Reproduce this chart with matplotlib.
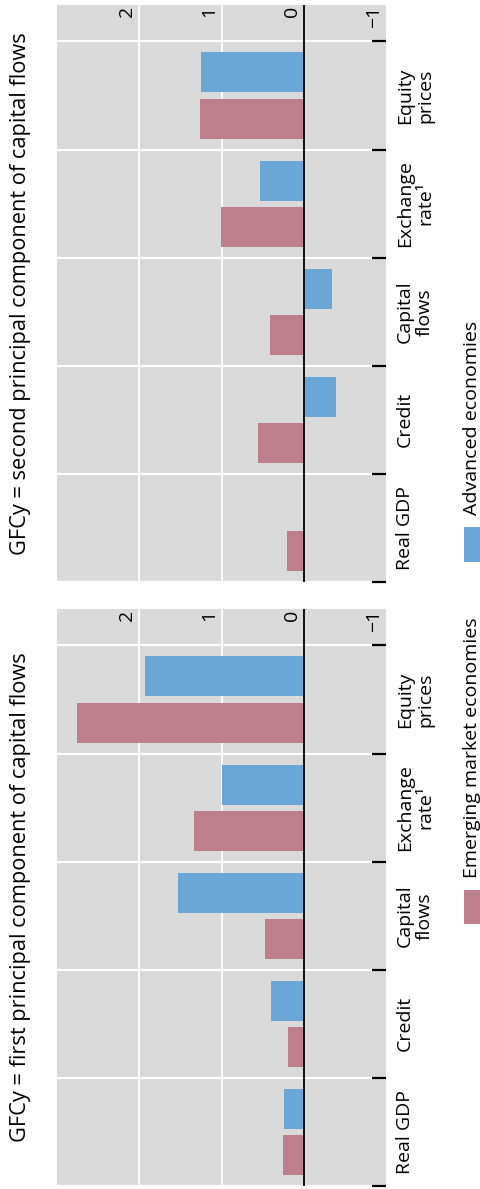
import matplotlib
matplotlib.use("Agg")
import matplotlib.pyplot as plt
import matplotlib.transforms as mtransforms
from matplotlib.patches import Rectangle

plt.rcParams['font.family'] = ['Open Sans', 'DejaVu Sans']

# ---- data ----
categories = ["Real GDP", "Credit", "Capital\nflows", "Exchange\nrate\u00b9", "Equity\nprices"]
series_names = ["Emerging market economies", "Advanced economies"]
titles = ["GFCy = first principal component of capital flows",
          "GFCy = second principal component of capital flows"]
first_adv = [0.24, 0.40, 1.53, 0.99, 1.93]
first_em = [0.25, 0.19, 0.47, 1.34, 2.76]
second_adv = [0.0, -0.39, -0.34, 0.53, 1.25]
second_em = [0.20, 0.56, 0.41, 1.01, 1.265]
value_ticks = [2, 1, 0, -1]
value_tick_labels = ["2", "1", "0", "\u22121"]

# ---- style ----
W, H = 480, 1189
BG = "#dadada"
C_ADV = "#6aa7d6"
C_EM = "#be7f8c"

fig = plt.figure(figsize=(W / 100, H / 100), dpi=100)


def px_box(x0, y0, x1, y1):
    return [x0 / W, 1 - y1 / H, (x1 - x0) / W, (y1 - y0) / H]


def draw_panel(ax, adv, em, title):
    ax.set_facecolor(BG)
    n = len(categories)
    ys = list(range(n))
    bh = 0.37
    off = 0.213
    ax.barh([y + off for y in ys], adv, height=bh, color=C_ADV, zorder=3)
    ax.barh([y - off for y in ys], em, height=bh, color=C_EM, zorder=3)
    ax.set_xlim(3, -1)
    ax.set_ylim(-0.5, n - 0.5 + 0.337)
    for s in ax.spines.values():
        s.set_visible(False)
    # grid
    for v in [1, 2]:
        ax.axvline(v, color="white", lw=1.3, zorder=1)
    for k in range(n + 1):
        ax.axhline(k - 0.5, color="white", lw=1.5, zorder=1)
    ax.axvline(0, color="black", lw=1.3, zorder=4)
    # category ticks on right, inward
    ax.set_xticks([])
    ax.yaxis.tick_right()
    ax.set_yticks([k - 0.5 for k in range(n + 1)])
    ax.set_yticklabels([])
    ax.tick_params(axis="y", direction="in", length=10, width=1.6, color="black", right=True, left=False)
    # value labels inside top
    tr = mtransforms.offset_copy(ax.get_xaxis_transform(), fig=fig, x=-3, y=-1, units="dots")
    for v, lab in zip(value_ticks, value_tick_labels):
        ax.text(v, 1.0, lab, transform=tr, rotation=90, ha="right", va="top",
                fontsize=14, color="black", zorder=5)
    # category labels
    trc = mtransforms.offset_copy(
        mtransforms.blended_transform_factory(ax.transAxes, ax.transData),
        fig=fig, x=10, y=0, units="dots")
    for y, lab in zip(ys, categories):
        ax.text(1.0, y, lab, transform=trc, rotation=90, ha="left", va="center",
                multialignment="center", fontsize=14, linespacing=1.15,
                color="black", clip_on=False)
    # title
    pos = ax.get_position()
    fig.text(21 / W, pos.y0 + pos.height / 2, title, rotation=90, ha="center", va="center",
             fontsize=15.7, color="black")


ax2 = fig.add_axes(px_box(57, 5, 386, 582))
draw_panel(ax2, second_adv, second_em, titles[1])
ax1 = fig.add_axes(px_box(57, 609, 386, 1186))
draw_panel(ax1, first_adv, first_em, titles[0])

# legend
leg_items = [(series_names[0], C_EM, 890, 924), (series_names[1], C_ADV, 527, 562)]
for name, col, y0, y1 in leg_items:
    fig.patches.append(Rectangle((464 / W, 1 - y1 / H), 16 / W, (y1 - y0) / H,
                                 transform=fig.transFigure, facecolor=col, edgecolor="none"))
    fig.text(472 / W, 1 - (y0 - 12) / H, name, rotation=90, ha="center", va="bottom",
             fontsize=14, color="black")

fig.savefig("out.png", dpi=100)
